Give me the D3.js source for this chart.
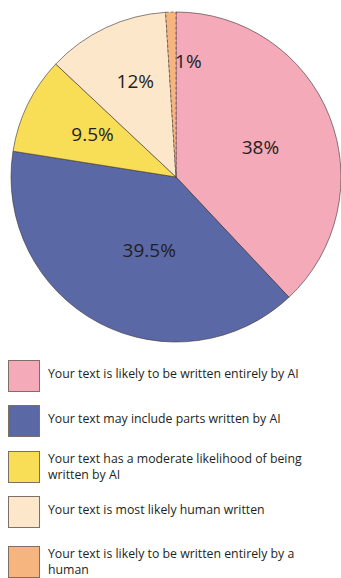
<!DOCTYPE html>
<html><head><meta charset="utf-8">
<script src="https://cdn.jsdelivr.net/npm/d3@7"></script>
<style>html,body{margin:0;padding:0;background:#fff;overflow:hidden}</style>
</head><body>
<svg id="chart" width="341" height="578"></svg>
<script>
const categories = [
  "Your text is likely to be written entirely by AI",
  "Your text may include parts written by AI",
  "Your text has a moderate likelihood of being written by AI",
  "Your text is most likely human written",
  "Your text is likely to be written entirely by a human"
];
const values = [38, 39.5, 9.5, 12, 1];
const sliceLabels = ["38%", "39.5%", "9.5%", "12%", "1%"];
const legendLines = [
  ["Your text is likely to be written entirely by AI"],
  ["Your text may include parts written by AI"],
  ["Your text has a moderate likelihood of being", "written by AI"],
  ["Your text is most likely human written"],
  ["Your text is likely to be written entirely by a", "human"]
];
const colors = ["#F5AABA", "#5B68A6", "#F8DD57", "#FDE7CA", "#F6B47E"];

const svg = d3.select("#chart");
const cx = 176, cy = 177, R = 165;
const pie = d3.pie().sort(null).value(d => d)(values);
const arc = d3.arc().innerRadius(0).outerRadius(R);
const g = svg.append("g").attr("transform", `translate(${cx},${cy})`);
g.selectAll("path").data(pie).join("path")
  .attr("d", arc)
  .attr("fill", (d, i) => colors[i])
  .attr("stroke", "#3a3030")
  .attr("stroke-width", 0.6)
  .attr("stroke-dasharray", (d, i) => i === 4 ? "3,2" : null);

// label positions (fraction of radius, plus small nudges)
const labelR = [0.55, 0.45, 0.55, 0.58, 0.7];
const labelShift = [[0,3],[8,7],[-2,-3],[0,-9],[16,-1]];
g.selectAll("text").data(pie).join("text")
  .attr("transform", (d, i) => {
    const a = (d.startAngle + d.endAngle) / 2;
    const r = R * labelR[i];
    return `translate(${Math.sin(a) * r + labelShift[i][0]},${-Math.cos(a) * r + labelShift[i][1]})`;
  })
  .attr("text-anchor", "middle")
  .attr("dominant-baseline", "central")
  .attr("font-family", "'Open Sans', sans-serif")
  .attr("font-size", 19)
  .attr("fill", "#231F20")
  .text((d, i) => sliceLabels[i]);

// legend
const boxY = [360, 405, 451, 496, 546];
const lg = svg.append("g");
categories.forEach((c, i) => {
  lg.append("rect").attr("x", 8.5).attr("y", boxY[i] + 0.5).attr("width", 31).attr("height", 31)
    .attr("fill", colors[i]).attr("stroke", "#7d6e66").attr("stroke-width", 1);
  const lines = legendLines[i];
  const t = lg.append("text")
    .attr("font-family", "'Open Sans', sans-serif")
    .attr("font-size", 12.3)
    .attr("fill", "#231F20");
  const firstBase = lines.length === 1 ? boxY[i] + 17.5 : boxY[i] + 11.5;
  lines.forEach((l, j) => {
    t.append("tspan").attr("x", 48).attr("y", firstBase + j * 16.5).text(l);
  });
});
</script>
</body></html>
